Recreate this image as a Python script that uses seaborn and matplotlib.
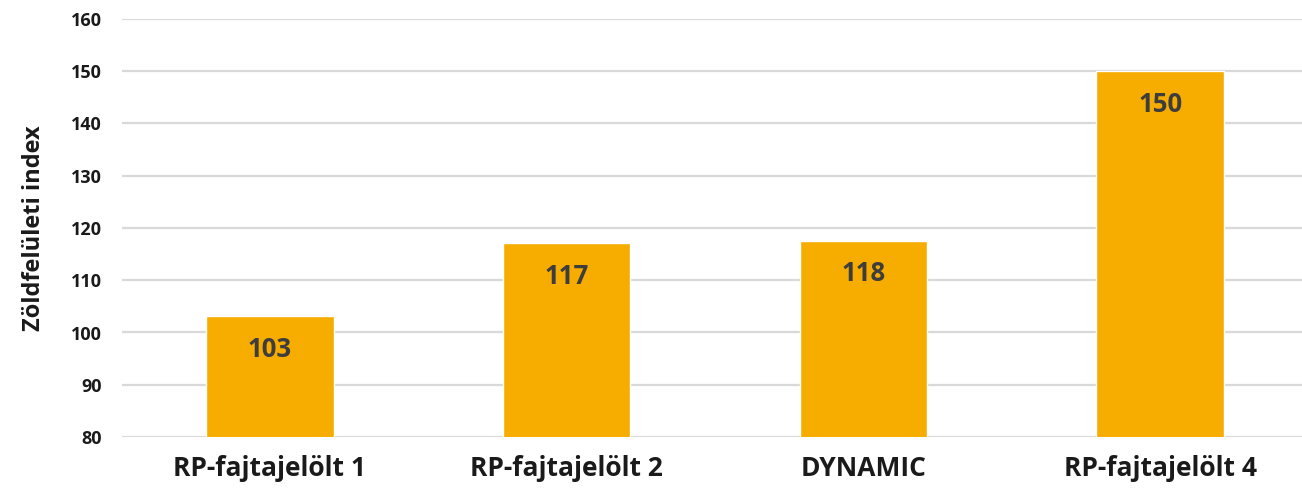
import matplotlib
matplotlib.use("Agg")
import matplotlib.pyplot as plt
import seaborn as sns
import pandas as pd

# Green area index per candidate variety
categories = ["RP-fajtajelölt 1", "RP-fajtajelölt 2", "DYNAMIC", "RP-fajtajelölt 4"]
values = [103.2, 117.1, 117.6, 150.0]
y_ticks = [80, 90, 100, 110, 120, 130, 140, 150, 160]

sns.set_theme(style="white")
plt.rcParams["font.family"] = ["Open Sans", "DejaVu Sans"]

df = pd.DataFrame({"variety": categories, "index": values})

fig = plt.figure(figsize=(13.02, 4.90), dpi=100)
ax = fig.add_axes([121.5 / 1302, 1 - 437 / 490, 1187 / 1302, (437 - 19) / 490])

bar_color = "#F7AC00"
sns.barplot(data=df, x="variety", y="index", color=bar_color, saturation=1,
            width=0.43, ax=ax, zorder=3)

ax.set_ylim(y_ticks[0], y_ticks[-1])
ax.set_yticks(y_ticks)
ax.yaxis.grid(True, color="#d9d9d9", linewidth=1.6, zorder=0)
ax.xaxis.grid(False)
for s in ax.spines.values():
    s.set_visible(False)
ax.tick_params(axis="both", length=0)
ax.tick_params(axis="y", pad=14)
ax.tick_params(axis="x", pad=13)

for lbl in ax.get_yticklabels():
    lbl.set_fontsize(13)
    lbl.set_fontweight("bold")
    lbl.set_color("#1a1a1a")
for lbl in ax.get_xticklabels():
    lbl.set_fontsize(19)
    lbl.set_fontweight("bold")
    lbl.set_color("#1a1a1a")

ax.set_xlabel("")
ax.set_ylabel("Zöldfelületi index", fontsize=17, fontweight="bold",
              color="#1a1a1a", labelpad=18)

for i, v in enumerate(values):
    ax.annotate(f"{v:.0f}", xy=(i, v), xytext=(0, -24), textcoords="offset points",
                ha="center", va="center", fontsize=18.5, fontweight="bold",
                color="#3d3d3d", zorder=4)

fig.savefig("out.png", dpi=100)
